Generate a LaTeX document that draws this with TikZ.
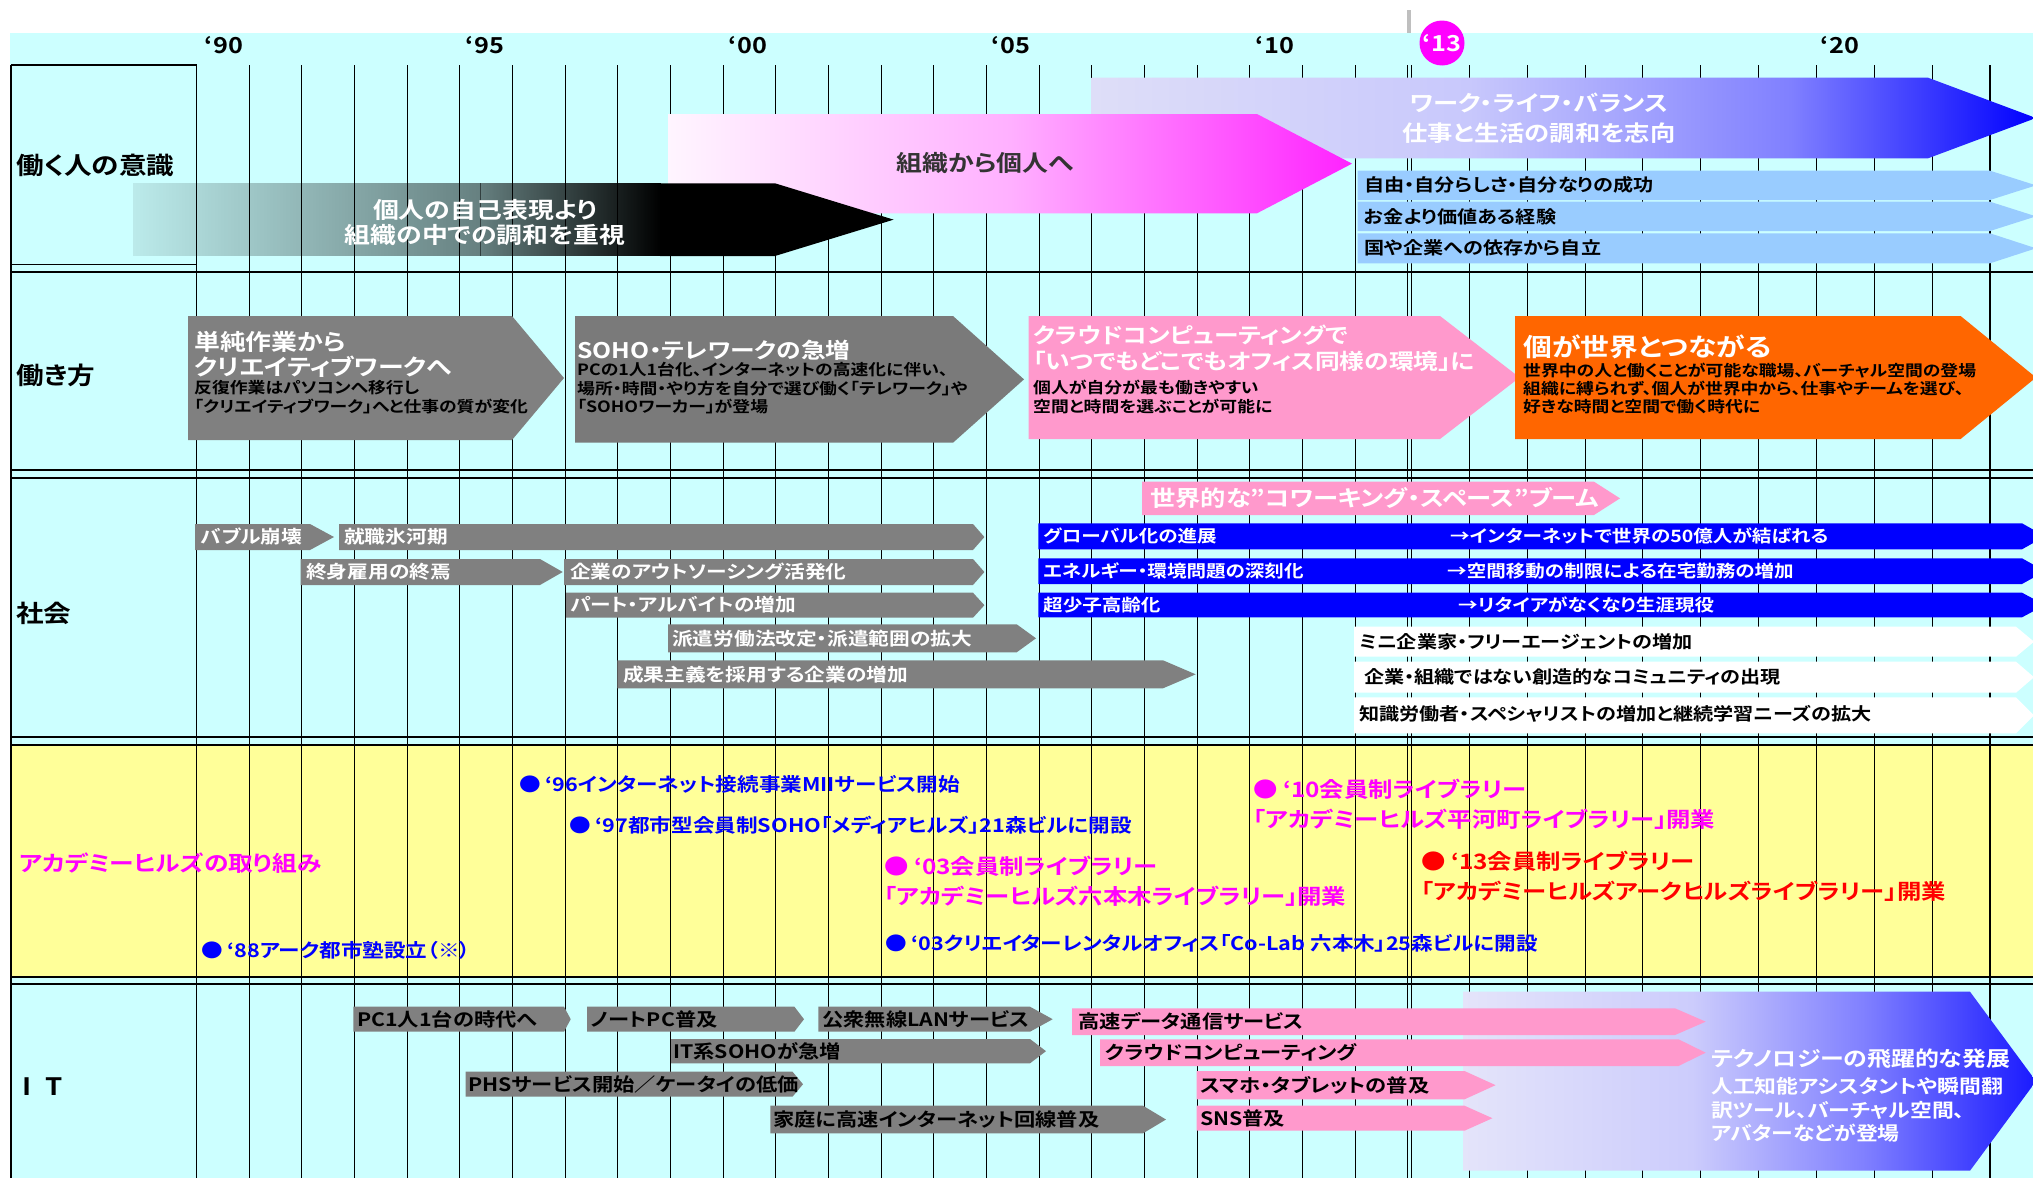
\documentclass[tikz,border=0pt]{standalone}
\usepackage{fontspec}
\setmainfont{Noto Sans CJK JP Bold}[FakeStretch=1.15,CharacterWidth=AlternateProportional]
\usetikzlibrary{positioning,fadings}

\definecolor{bgcyan}{HTML}{CCFFFF}
\definecolor{bgyellow}{HTML}{FFFF99}
\definecolor{arrgray}{HTML}{808080}
\definecolor{arrpink}{HTML}{FF99CC}
\definecolor{arrorange}{HTML}{FF6600}
\definecolor{arrblue}{HTML}{0000FF}
\definecolor{arrsky}{HTML}{99CCFF}
\definecolor{hilmag}{HTML}{FF00FF}
\definecolor{hilred}{HTML}{FF0000}
\definecolor{darktxt}{HTML}{333333}
\definecolor{lavA}{HTML}{DEDEF8}
\definecolor{lavB}{HTML}{C8C8FC}
\definecolor{lavC}{HTML}{8080FF}
\definecolor{techA}{HTML}{E4E4FA}
\definecolor{techB}{HTML}{CCCCFC}
\definecolor{techC}{HTML}{1A1AFF}
\definecolor{pinkA}{HTML}{FFF5FF}
\definecolor{pinkB}{HTML}{FFB0FF}
\definecolor{pinkC}{HTML}{FF22FF}

\pgfdeclarehorizontalshading{worklife}{100bp}{color(0bp)=(lavA); color(25bp)=(lavA); color(45bp)=(lavB); color(62bp)=(lavC); color(75bp)=(arrblue); color(100bp)=(arrblue)}
\pgfdeclarehorizontalshading{techjump}{100bp}{color(0bp)=(techA); color(25bp)=(techA); color(45bp)=(techB); color(60bp)=(lavC); color(75bp)=(techC); color(100bp)=(techC)}
\pgfdeclarehorizontalshading{toperson}{100bp}{color(0bp)=(pinkA); color(25bp)=(pinkA); color(50bp)=(pinkB); color(75bp)=(pinkC); color(100bp)=(pinkC)}
\tikzfading[name=fadelight, left color=transparent!92, right color=transparent!50]
\tikzfading[name=fadedark, left color=transparent!50, right color=transparent!0]

\newcommand{\fsk}[2]{\fontsize{#1}{#2}\selectfont}
% band arrow: [style] left, top, bottom, tip start, tip end
\newcommand{\bandarrow}[6][]{%
  \path[#1] (#2,#3) -- (#5,#3) -- (#6,{(#3+#4)/2}) -- (#5,#4) -- (#2,#4) -- cycle;}

\tikzset{
  gridline/.style={line width=1.1pt, black},
  rowline/.style={line width=1.4pt, black},
  rowtitle/.style={anchor=west, inner sep=0pt, font=\fsk{24}{24}},
  yearlbl/.style={inner sep=0pt, font=\fsk{22}{22}},
  lbl/.style={anchor=west, inner sep=0pt, align=left},
  graytxt/.style={lbl, text=white, font=\fsk{18}{18}},
  bluetxt/.style={lbl, text=white, font=\fsk{17}{17}},
  evtxt/.style={lbl, text=arrblue, font=\fsk{18.8}{18.8}},
  libtxt/.style={lbl, font=\fsk{21.2}{30}},
  ittxt/.style={lbl, text=black, font=\fsk{18.5}{18.5}},
}

\begin{document}
\begin{tikzpicture}[x=1pt,y=-1pt]
        \useasboundingbox (0,0) rectangle (2033,1178);

        % Backgrounds
        \fill[white] (0,0) rectangle (2033,1178);
        \fill[bgcyan] (10,33) rectangle (2033,1178);
        \fill[bgyellow] (11,745) rectangle (2033,977);
        \fill[black!25] (1406.5,10) rectangle (1411,33);

        % Year grid
        \foreach \k in {0,...,23}
            \draw[gridline] ({196.5+52.67*\k},65) -- ({196.5+52.67*\k},1178);
        \foreach \j in {0,...,10}
            \draw[gridline] ({1411.5+57.85*\j},65) -- ({1411.5+57.85*\j},1178);

        % Row separators
        \draw[rowline] (11,65) -- (196.5,65);
        \draw[rowline] (11,264.5) -- (196.5,264.5);
        \draw[rowline] (11,65) -- (11,1178);
        \foreach \yy in {272,470,478,737,745,977,984}
            \draw[rowline] (11,\yy) -- (2033,\yy);

        % Year labels
        \foreach \yr/\xc in {90/224,95/485,00/748,05/1011,10/1275,20/1840}
            \node[yearlbl] (yr\yr) at (\xc,45) {‘\yr};
        \node[circle,fill=hilmag,minimum size=45pt,inner sep=0pt,text=white,font=\fsk{22}{22}] (yr13) at (1442,43) {‘13};

        % Row titles
        \node[rowtitle] (rowmind) at (16,165) {働く人の意識};
        \node[rowtitle] (rowwork) at (16,375) {働き方};
        \node[rowtitle] (rowsoc) at (16,613) {社会};
        \node[rowtitle,text=hilmag,font=\fsk{21.5}{21.5}] (rowhills) at (19,863) {アカデミーヒルズの取り組み};
        \node[rowtitle] (rowit) at (22,1087) {I\hspace{14pt}T};

        % ================== Row 1: mind ==================
        \bandarrow[shading=worklife] {1091.6}{77.7}{158.3}{1928}{2036}
        \bandarrow[shading=toperson] {668}{114}{213.3}{1257}{1352}
        \fill[black,path fading=fadelight] (133,183.3) rectangle (481,256);
        \fill[black,path fading=fadedark] (480,183.3) rectangle (661,256);
        \bandarrow[fill=black] {660}{183.3}{256}{775}{893.6}
        \node[lbl,align=center,text=white,font=\fsk{22.5}{25},anchor=center] (mindgroup) at (485,222.5) {個人の自己表現より\\組織の中での調和を重視};
        \node[lbl,text=darktxt,font=\fsk{22.5}{22.5},anchor=center] (mindperson) at (985,163) {組織から個人へ};
        \node[lbl,align=center,text=white,font=\fsk{22}{30},anchor=center] (mindbalance) at (1539,118) {ワーク・ライフ・バランス\\仕事と生活の調和を志向};

        % light blue values
        \foreach \yt/\yb/\txt [count=\n] in {170.7/200/自由・自分らしさ・自分なりの成功,201.7/231/お金より価値ある経験,233.3/263.3/国や企業への依存から自立}{
            \bandarrow[fill=arrsky] {1357.5}{\yt}{\yb}{1990}{2036}
            \node[lbl,font=\fsk{17.5}{17.5}] (value\n) at (1364,{(\yt+\yb)/2}) {\txt};
        }

        % ================== Row 2: way of working ==================
        \bandarrow[fill=arrgray] {188}{316}{440}{512}{564}
        \node[lbl,text=white,font=\fsk{22.5}{25}] (workcreahead) at (194,354) {単純作業から\\クリエイティブワークへ};
        \node[lbl,font=\fsk{15.5}{18.7}] (workcreabody) at (194,397.3) {反復作業はパソコンへ移行し\\「クリエイティブワーク」へと仕事の質が変化};

        \bandarrow[fill=arrgray!95!black] {575}{316}{442.7}{953}{1024}
        \node[lbl,text=white,font=\fsk{21.5}{25}] (worksohohead) at (577,350) {SOHO・テレワークの急増};
        \node[lbl,font=\fsk{15.5}{18.4}] (worksohobody) at (577,388.3) {PCの1人1台化、インターネットの高速化に伴い、\\場所・時間・やり方を自分で選び働く「テレワーク」や\\「SOHOワーカー」が登場};

        \bandarrow[fill=arrpink] {1028.7}{316}{439}{1440}{1519.6}
        \node[lbl,text=white,font=\fsk{21.5}{25.7}] (workcloudhead) at (1033,348) {クラウドコンピューティングで\\「いつでもどこでもオフィス同様の環境」に};
        \node[lbl,font=\fsk{15.5}{19.4}] (workcloudbody) at (1033,397) {個人が自分が最も働きやすい\\空間と時間を選ぶことが可能に};

        \bandarrow[fill=arrorange] {1515}{316}{439}{1960.6}{2036}
        \node[lbl,text=white,font=\fsk{25}{25}] (workworldhead) at (1523,347.3) {個が世界とつながる};
        \node[lbl,font=\fsk{15.5}{18.2}] (workworldbody) at (1523,388.7) {世界中の人と働くことが可能な職場、バーチャル空間の登場\\組織に縛られず、個人が世界中から、仕事やチームを選び、\\好きな時間と空間で働く時代に};

        % ================== Row 3: society ==================
        \bandarrow[fill=arrgray] {195}{524}{550}{310}{334}
        \node[graytxt] (socbubble) at (201,537) {バブル崩壊};
        \bandarrow[fill=arrgray] {339}{524}{550}{973}{984.4}
        \node[graytxt] (socice) at (344,537) {就職氷河期};
        \bandarrow[fill=arrgray] {300.7}{559}{585}{540}{562.7}
        \node[graytxt] (soclife) at (306,572) {終身雇用の終焉};
        \bandarrow[fill=arrgray] {564}{559}{585}{973}{984.4}
        \node[graytxt] (socout) at (570,572) {企業のアウトソーシング活発化};
        \bandarrow[fill=arrgray] {566}{592.7}{617.7}{973}{984.4}
        \node[graytxt] (socpart) at (570,605) {パート・アルバイトの増加};
        \bandarrow[fill=arrgray] {668}{624.3}{652.3}{1016.7}{1036}
        \node[graytxt] (socdispatch) at (672,638.3) {派遣労働法改定・派遣範囲の拡大};
        \bandarrow[fill=arrgray] {617.4}{660.3}{688.3}{1163}{1195.7}
        \node[graytxt] (socmerit) at (623,674.3) {成果主義を採用する企業の増加};

        \bandarrow[fill=arrpink] {1142}{481.7}{515}{1594}{1620}
        \node[lbl,text=white,font=\fsk{22}{22}] (soccowork) at (1150,498.3) {世界的な"コワーキング・スペース"ブーム};

        \bandarrow[fill=arrblue] {1038.3}{523.3}{549.3}{2022}{2045}
        \node[bluetxt] (socglobal) at (1043,536.3) {グローバル化の進展};
        \node[bluetxt] (socglobalr) at (1450,536.3) {→インターネットで世界の50億人が結ばれる};
        \bandarrow[fill=arrblue] {1038.3}{558.3}{584}{2022}{2045}
        \node[bluetxt] (socenergy) at (1043,571.2) {エネルギー・環境問題の深刻化};
        \node[bluetxt] (socenergyr) at (1447,571.2) {→空間移動の制限による在宅勤務の増加};
        \bandarrow[fill=arrblue] {1038.3}{592.7}{617.3}{2022}{2045}
        \node[bluetxt] (socaging) at (1043,605) {超少子高齢化};
        \node[bluetxt] (socagingr) at (1458,605) {→リタイアがなくなり生涯現役};

        \bandarrow[fill=white] {1354}{626.7}{656.7}{2016}{2034}
        \node[lbl,font=\fsk{17.5}{17.5}] (socfree) at (1359,641.7) {ミニ企業家・フリーエージェントの増加};
        \bandarrow[fill=white] {1354}{661.7}{692.7}{2016}{2034}
        \node[lbl,font=\fsk{17.5}{17.5}] (soccomm) at (1364,677.2) {企業・組織ではない創造的なコミュニティの出現};
        \bandarrow[fill=white] {1354}{697.3}{733.3}{2016}{2034}
        \node[lbl,font=\fsk{17.5}{17.5}] (socexpert) at (1359,714) {知識労働者・スペシャリストの増加と継続学習ニーズの拡大};

        % ================== Row 4: Academyhills ==================
        \node[evtxt] (ev96) at (519,784) {● ‘96インターネット接続事業MIIサービス開始};
        \node[evtxt] (ev97) at (569,825) {● ‘97都市型会員制SOHO「メディアヒルズ」21森ビルに開設};
        \node[evtxt] (ev88) at (201,950) {● ‘88アーク都市塾設立（※）};
        \node[libtxt,text=hilmag] (ev03lib) at (884,881.5) {● ‘03会員制ライブラリー\\「アカデミーヒルズ六本木ライブラリー」開業};
        \node[evtxt] (ev03lab) at (885,943.3) {● ‘03クリエイターレンタルオフィス「Co-Lab 六本木」25森ビルに開設};
        \node[libtxt,text=hilmag] (ev10lib) at (1253,803.8) {● ‘10会員制ライブラリー\\「アカデミーヒルズ平河町ライブラリー」開業};
        \node[libtxt,text=hilred] (ev13lib) at (1421,876.7) {● ‘13会員制ライブラリー\\「アカデミーヒルズアークヒルズライブラリー」開業};

        % ================== Row 5: IT ==================
        \bandarrow[fill=arrgray] {353.4}{1006.7}{1031.7}{564}{570.7}
        \node[ittxt] (itpc) at (357,1019.2) {PC1人1台の時代へ};
        \bandarrow[fill=arrgray] {587}{1006.7}{1031.7}{794.4}{804}
        \node[ittxt] (itnote) at (591,1019.2) {ノートPC普及};
        \bandarrow[fill=arrgray] {818.4}{1006.7}{1031.7}{1030}{1052.7}
        \node[ittxt] (itlan) at (822,1019.2) {公衆無線LANサービス};
        \bandarrow[fill=arrgray] {671}{1039}{1063.3}{1030}{1046}
        \node[ittxt] (itsoho) at (673,1051.2) {IT系SOHOが急増};
        \bandarrow[fill=arrgray] {465.6}{1071.7}{1096.7}{792.5}{803}
        \node[ittxt] (itphs) at (468,1084.2) {PHSサービス開始／ケータイの低価};
        \bandarrow[fill=arrgray] {770.4}{1105.7}{1133.3}{1143}{1166}
        \node[ittxt] (ithome) at (773,1119.5) {家庭に高速インターネット回線普及};

        \bandarrow[shading=techjump] {1463}{991.7}{1170.7}{1970}{2036}

        \bandarrow[fill=arrpink] {1072}{1008.3}{1035}{1675}{1705.7}
        \node[ittxt] (itdata) at (1078,1021.7) {高速データ通信サービス};
        \bandarrow[fill=arrpink] {1100}{1039.3}{1066}{1678.5}{1705.7}
        \node[ittxt] (itcloud) at (1105,1052.7) {クラウドコンピューティング};
        \bandarrow[fill=arrpink] {1196.6}{1071}{1099.3}{1464.5}{1495.6}
        \node[ittxt] (itsmart) at (1200,1085.2) {スマホ・タブレットの普及};
        \bandarrow[fill=arrpink] {1196.6}{1105.7}{1130.7}{1464.5}{1492.4}
        \node[ittxt] (itsns) at (1200,1118.2) {SNS普及};

        \node[lbl,text=white,font=\fsk{20.8}{20.8}] (ittechhead) at (1711,1058.3) {テクノロジーの飛躍的な発展};
        \node[lbl,text=white,font=\fsk{19}{23.3}] (ittechbody) at (1711,1110) {人工知能アシスタントや瞬間翻\\訳ツール、バーチャル空間、\\アバターなどが登場};
\end{tikzpicture}
\end{document}
